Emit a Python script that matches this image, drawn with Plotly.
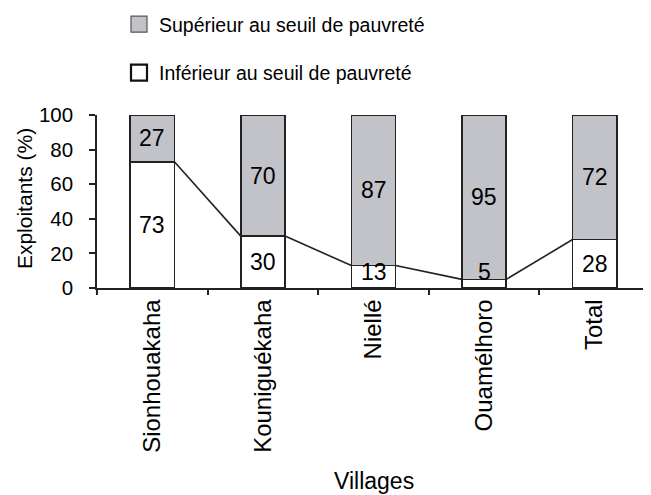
import plotly.graph_objects as go

categories = ["Sionhouakaha", "Kouniguékaha", "Niellé", "Ouamélhoro", "Total"]
inferieur = [73, 30, 13, 5, 28]
superieur = [27, 70, 87, 95, 72]
y_ticks = [0, 20, 40, 60, 80, 100]

FONT = "Arial, 'Liberation Sans', Helvetica, sans-serif"
GREY = "#c1c3c8"
LINE = "#222222"
BARGAP = 0.6
half = (1 - BARGAP) / 2
# page body adds an 8px offset, so the figure is sized to the visible window minus it
W, H = 643, 487
M = dict(l=89, r=1, t=107, b=207, autoexpand=False)
plot_h = H - M["t"] - M["b"]
plot_w = W - M["l"] - M["r"]

NAME_INF = "Inférieur au seuil de pauvreté"
NAME_SUP = "Supérieur au seuil de pauvreté"

fig = go.Figure()
fig.add_trace(go.Bar(
    x=categories, y=inferieur, name=NAME_INF,
    marker=dict(color="white", line=dict(color=LINE, width=1.6)),
    showlegend=False,
))
fig.add_trace(go.Bar(
    x=categories, y=superieur, name=NAME_SUP,
    marker=dict(color=GREY, line=dict(color=LINE, width=1.6)),
    showlegend=False,
))

# series lines joining tops of the lower segments
lx, ly = [], []
for i in range(len(inferieur) - 1):
    lx += [i + half, i + 1 - half, None]
    ly += [inferieur[i], inferieur[i + 1], None]
fig.add_trace(go.Scatter(x=lx, y=ly, xaxis="x2", mode="lines",
                         line=dict(color=LINE, width=1.6), showlegend=False,
                         hoverinfo="skip"))

# legend entries (larger square swatches)
fig.add_trace(go.Scatter(x=[None], y=[None], mode="markers", name=NAME_SUP,
                         marker=dict(symbol="square", size=16, color=GREY,
                                     line=dict(color="#555555", width=1.2)),
                         legendrank=1, legendgroup="sup"))
fig.add_trace(go.Scatter(x=[None], y=[None], mode="markers", name=NAME_INF,
                         marker=dict(symbol="square", size=16, color="white",
                                     line=dict(color="#111111", width=2.2)),
                         legendrank=2, legendgroup="inf"))

# value labels
MIN_LABEL = 9
for i, c in enumerate(categories):
    fig.add_annotation(x=c, y=max(inferieur[i] / 2, MIN_LABEL), text=str(inferieur[i]),
                       showarrow=False, font=dict(family=FONT, size=23, color="black"))
    fig.add_annotation(x=c, y=inferieur[i] + superieur[i] / 2, text=str(superieur[i]),
                       showarrow=False, font=dict(family=FONT, size=23, color="black"))

# axis titles
fig.add_annotation(text="Villages", xref="paper", yref="paper", x=0.5,
                   y=-(488 - (H - M["b"])) / plot_h,
                   xanchor="center", yanchor="bottom", showarrow=False,
                   font=dict(family=FONT, size=23, color="black"))
fig.add_annotation(text="Exploitants (%)", xref="paper", yref="paper",
                   x=(16 - M["l"]) / plot_w, y=0.514, textangle=-90,
                   xanchor="center", yanchor="middle", showarrow=False,
                   font=dict(family=FONT, size=21, color="black"))

fig.update_layout(
    width=W, height=H,
    margin=M,
    paper_bgcolor="white", plot_bgcolor="white",
    barmode="stack", bargap=BARGAP,
    font=dict(family=FONT, color="black"),
    showlegend=True,
    legend=dict(x=(111 - M["l"]) / plot_w, y=1 + (M["t"] + 3) / plot_h,
                xanchor="left", yanchor="top",
                font=dict(family=FONT, size=19.5, color="black"),
                tracegroupgap=20, traceorder="grouped",
                bgcolor="rgba(0,0,0,0)"),
    xaxis=dict(type="category", tickson="boundaries", ticks="outside", ticklen=5,
               tickwidth=1.6, tickcolor=LINE, showline=True, linecolor=LINE, linewidth=1.6,
               tickangle=-90, tickfont=dict(family=FONT, size=24, color="black"),
               showgrid=False, zeroline=False),
    xaxis2=dict(overlaying="x", range=[-0.5, len(categories) - 0.5], visible=False,
                anchor="y"),
    yaxis=dict(range=[0, 100], tickvals=y_ticks, ticks="outside", ticklen=6,
               tickwidth=1.6, tickcolor=LINE, showline=True, linecolor=LINE, linewidth=1.6,
               tickfont=dict(family=FONT, size=20.5, color="black"), ticklabelstandoff=12,
               showgrid=False, zeroline=False),
)

fig.write_html("out.html")
